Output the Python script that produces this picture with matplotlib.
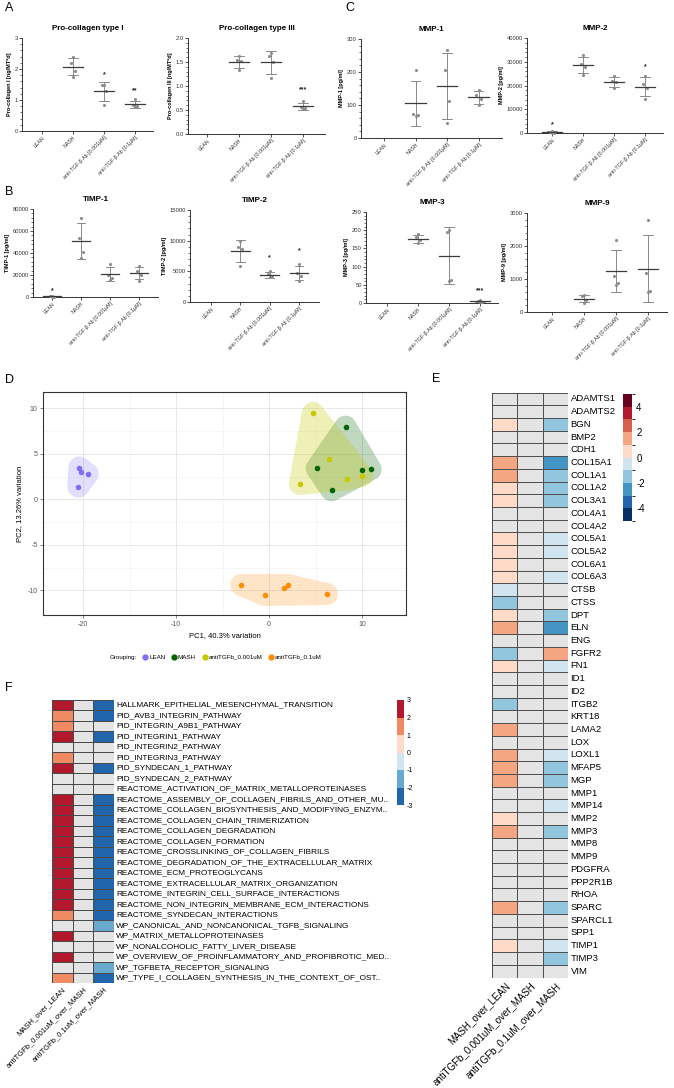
import numpy as np
import matplotlib
matplotlib.use("Agg")
import matplotlib.pyplot as plt
from matplotlib.colors import ListedColormap, BoundaryNorm
from matplotlib.patches import Polygon
from matplotlib.lines import Line2D
from matplotlib.ticker import MultipleLocator, AutoMinorLocator
from matplotlib.cm import ScalarMappable
from matplotlib import font_manager

avail = {f.name for f in font_manager.fontManager.ttflist}
plt.rcParams['font.family'] = ['Liberation Sans', 'DejaVu Sans']
plt.rcParams['axes.unicode_minus'] = False
NARROW = ['Liberation Sans Narrow', 'Liberation Sans'] if 'Liberation Sans Narrow' in avail else None

# ---------------- data: panels A-C ----------------
groups = ["LEAN", "NASH", "anti-TGF-β Ab [0.001µM]", "anti-TGF-β Ab [0.1µM]"]

procol1 = [[], [2.40, 2.20, 1.95, 1.75], [1.50, 1.48, 1.30, 0.85], [1.02, 0.83, 0.80, 0.78]]
procol3 = [[], [1.62, 1.55, 1.52, 1.33], [1.68, 1.62, 1.50, 1.16], [0.68, 0.56, 0.54, 0.53]]
timp1 = [[1200, 600, 200, 0], [72000, 54000, 41000, 35000],
         [30000, 20000, 17000, 15500], [28000, 24000, 20000, 15000]]
timp2 = [[], [10000, 9000, 8700, 5800], [5100, 4600, 4200, 4000], [6200, 4700, 4200, 3500]]
mmp1 = [[], [207, 74, 70, 68], [267, 206, 113, 44], [145, 130, 118, 100]]
mmp2 = [[800, 300, 100, 0], [33000, 29000, 28000, 24500],
        [24000, 22000, 21500, 19000], [24000, 20500, 19000, 14500]]
mmp3 = [[], [190, 180, 172, 165], [200, 195, 64, 60], [7, 5, 3, 2]]
mmp9 = [[], [520, 470, 350, 270], [2170, 1100, 870, 820], [2800, 1180, 650, 620]]

stars_procol1 = [(2, "*", 1.8), (3, "**", 1.3)]
stars_procol3 = [(3, "***", 0.93)]
stars_timp1 = [(0, "*", 6000)]
stars_timp2 = [(2, "*", 7200), (3, "*", 8300)]
stars_mmp1 = []
stars_mmp2 = [(0, "*", 3400), (3, "*", 28000)]
stars_mmp3 = [(3, "***", 33)]
stars_mmp9 = []

# ---------------- data: panel D (PCA) ----------------
pca_groups = ["LEAN", "MASH", "antiTGFb_0.001uM", "antiTGFb_0.1uM"]
pc1_lean = [-20.4, -20.2, -19.5, -20.5]
pc2_lean = [3.5, 3.0, 2.8, 1.4]
pc1_mash = [8.2, 5.1, 10.0, 10.9, 6.7]
pc2_mash = [8.0, 3.4, 3.2, 3.3, 1.0]
pc1_a001 = [4.7, 6.4, 8.4, 10.0, 3.3]
pc2_a001 = [9.5, 4.4, 2.2, 2.6, 1.7]
pc1_a01 = [-3.0, -0.5, 1.6, 2.0, 6.2]
pc2_a01 = [-9.4, -10.5, -9.7, -9.4, -10.4]

# ---------------- data: panel E (genes) ----------------
nan = np.nan
genes = ["ADAMTS1", "ADAMTS2", "BGN", "BMP2", "CDH1", "COL15A1", "COL1A1", "COL1A2", "COL3A1",
         "COL4A1", "COL4A2", "COL5A1", "COL5A2", "COL6A1", "COL6A3", "CTSB", "CTSS", "DPT", "ELN",
         "ENG", "FGFR2", "FN1", "ID1", "ID2", "ITGB2", "KRT18", "LAMA2", "LOX", "LOXL1", "MFAP5",
         "MGP", "MMP1", "MMP14", "MMP2", "MMP3", "MMP8", "MMP9", "PDGFRA", "PPP2R1B", "RHOA",
         "SPARC", "SPARCL1", "SPP1", "TIMP1", "TIMP3", "VIM"]
contrasts = ["MASH_over_LEAN", "antiTGFb_0.001uM_over_MASH", "antiTGFb_0.1uM_over_MASH"]
e_mash_lean = [nan, nan, 0.5, nan, nan, 1.5, 1.5, 0.5, 0.5, nan, nan, 0.5, 0.5, 0.5, 0.5, -0.5,
               -1.5, 0.5, 1.5, nan, -1.5, 0.5, nan, nan, -1.5, nan, 1.5, nan, 1.5, 1.5, 1.5, nan,
               nan, 0.5, 1.5, nan, nan, nan, nan, nan, 1.5, nan, nan, 0.5, nan, nan]
e_a001 = [nan] * 46
e_a01 = [nan, nan, -1.5, nan, nan, -2.5, -1.5, -1.5, -1.5, nan, nan, -0.5, -0.5, nan, -0.5, nan,
         nan, -1.5, -2.5, nan, 1.5, -0.5, nan, nan, nan, nan, nan, nan, -0.5, -1.5, -1.5, nan,
         -0.5, nan, -1.5, nan, nan, nan, nan, nan, -1.5, nan, nan, -0.5, -1.5, nan]

# ---------------- data: panel F (pathways) ----------------
pathways = ["HALLMARK_EPITHELIAL_MESENCHYMAL_TRANSITION", "PID_AVB3_INTEGRIN_PATHWAY",
            "PID_INTEGRIN_A9B1_PATHWAY", "PID_INTEGRIN1_PATHWAY", "PID_INTEGRIN2_PATHWAY",
            "PID_INTEGRIN3_PATHWAY", "PID_SYNDECAN_1_PATHWAY", "PID_SYNDECAN_2_PATHWAY",
            "REACTOME_ACTIVATION_OF_MATRIX_METALLOPROTEINASES",
            "REACTOME_ASSEMBLY_OF_COLLAGEN_FIBRILS_AND_OTHER_MU..",
            "REACTOME_COLLAGEN_BIOSYNTHESIS_AND_MODIFYING_ENZYM..",
            "REACTOME_COLLAGEN_CHAIN_TRIMERIZATION", "REACTOME_COLLAGEN_DEGRADATION",
            "REACTOME_COLLAGEN_FORMATION", "REACTOME_CROSSLINKING_OF_COLLAGEN_FIBRILS",
            "REACTOME_DEGRADATION_OF_THE_EXTRACELLULAR_MATRIX", "REACTOME_ECM_PROTEOGLYCANS",
            "REACTOME_EXTRACELLULAR_MATRIX_ORGANIZATION", "REACTOME_INTEGRIN_CELL_SURFACE_INTERACTIONS",
            "REACTOME_NON_INTEGRIN_MEMBRANE_ECM_INTERACTIONS", "REACTOME_SYNDECAN_INTERACTIONS",
            "WP_CANONICAL_AND_NONCANONICAL_TGFB_SIGNALING", "WP_MATRIX_METALLOPROTEINASES",
            "WP_NONALCOHOLIC_FATTY_LIVER_DISEASE",
            "WP_OVERVIEW_OF_PROINFLAMMATORY_AND_PROFIBROTIC_MED..",
            "WP_TGFBETA_RECEPTOR_SIGNALING", "WP_TYPE_I_COLLAGEN_SYNTHESIS_IN_THE_CONTEXT_OF_OST.."]
f_mash_lean = [2.5, 1.5, 1.5, 2.5, nan, 1.5, 2.5, nan, nan, 2.5, 2.5, 2.5, 2.5, 2.5, 2.5, 2.5,
               2.5, 2.5, 2.5, 2.5, 1.5, nan, 2.5, nan, 2.5, nan, 1.5]
f_a001 = [nan] * 27
f_a01 = [-2.5, -2.5, nan, -2.5, nan, nan, -2.5, nan, nan, -2.5, -2.5, -2.5, -2.5, -2.5, -2.5,
         -2.5, -2.5, -2.5, -2.5, -2.5, -2.5, -1.5, nan, nan, nan, -1.5, -2.5]

# ---------------- figure ----------------
W, H = 674, 1088
fig = plt.figure(figsize=(W / 100, H / 100), dpi=100)


def rect(l, t, r, b):
    return [l / W, 1 - b / H, (r - l) / W, (b - t) / H]


def letter(x, y, s):
    fig.text(x / W, 1 - y / H, s, fontsize=9, ha='left', va='center')


AXC = "#333333"


def dotplot(box, lean_px, sp, title, ylabel, data, ymax, ystep, nminor, stars, fmt=None):
    l, t, r, b = box
    ax = fig.add_axes(rect(l, t, r, b))
    ax.set_xlim(-(lean_px - l) / sp, (r - lean_px) / sp)
    ax.set_ylim(0, ymax)
    offs = np.array([0.0, -0.07, 0.07, 0.0])
    for i, pts in enumerate(data):
        if len(pts) == 0:
            continue
        pts = np.asarray(pts, float)
        m = pts.mean()
        sd = pts.std(ddof=1)
        ax.scatter(i + offs[:len(pts)], pts, s=5, color="#8c8c8c", lw=0, zorder=3, clip_on=False)
        ax.plot([i - 0.32, i + 0.32], [m, m], color="#3c3c3c", lw=0.9, zorder=4)
        ax.plot([i, i], [max(m - sd, 0), m + sd], color="#777777", lw=0.6, zorder=2)
        for yv in (m - sd, m + sd):
            if yv >= 0:
                ax.plot([i - 0.15, i + 0.15], [yv, yv], color="#777777", lw=0.6, zorder=2)
    for gi, s, yv in stars:
        ax.text(gi, yv, s, ha='center', va='center', fontsize=5, fontweight='bold', color="#222222")
    for sp_ in ("top", "right"):
        ax.spines[sp_].set_visible(False)
    for sp_ in ("left", "bottom"):
        ax.spines[sp_].set_color(AXC)
        ax.spines[sp_].set_linewidth(0.7)
    ax.yaxis.set_major_locator(MultipleLocator(ystep))
    if nminor:
        ax.yaxis.set_minor_locator(AutoMinorLocator(nminor))
    ax.tick_params(axis='y', which='major', length=2, width=0.6, labelsize=4.2, pad=1, colors=AXC)
    ax.tick_params(axis='y', which='minor', length=1.2, width=0.5, colors=AXC)
    ax.tick_params(axis='x', length=2, width=0.6, pad=1, colors=AXC)
    ax.set_xticks(range(4))
    ax.set_xticklabels(groups, rotation=45, ha='right', rotation_mode='anchor', fontsize=3.8)
    if fmt:
        ax.yaxis.set_major_formatter(plt.FuncFormatter(lambda v, p: fmt.format(v)))
    else:
        ax.yaxis.set_major_formatter(plt.FuncFormatter(lambda v, p: "%d" % round(v)))
    ax.set_title(title, fontsize=5.8, fontweight='bold', pad=6)
    ax.set_ylabel(ylabel, fontsize=4, fontweight='bold', labelpad=2)
    return ax


letter(5, 8, "A")
letter(5, 192, "B")
letter(345, 8, "C")

dotplot((22, 38, 153, 131), 42, 31, "Pro-collagen type I", "Pro-collagen I [ng/MT*d]",
        procol1, 3, 1, 5, stars_procol1)
dotplot((188, 38, 325, 134), 207, 32, "Pro-collagen type III", "Pro-collagen III [ng/MT*d]",
        procol3, 2.0, 0.5, 5, stars_procol3, fmt="{:.1f}")
dotplot((33, 209, 158, 297), 52, 29, "TIMP-1", "TIMP-1 [pg/ml]",
        timp1, 80000, 20000, 5, stars_timp1)
dotplot((190, 210, 319, 302), 211, 29.3, "TIMP-2", "TIMP-2 [pg/ml]",
        timp2, 15000, 5000, 5, stars_timp2)
dotplot((361, 39, 502, 138), 384, 31.5, "MMP-1", "MMP-1 [pg/ml]",
        mmp1, 300, 100, 5, stars_mmp1)
dotplot((527, 38, 663, 133), 552, 31, "MMP-2", "MMP-2 [pg/ml]",
        mmp2, 40000, 10000, 5, stars_mmp2)
dotplot((366, 212, 498, 303), 387, 31, "MMP-3", "MMP-3 [pg/ml]",
        mmp3, 250, 50, 5, stars_mmp3)
dotplot((527, 213, 667, 312), 552, 32, "MMP-9", "MMP-9 [pg/ml]",
        mmp9, 3000, 1000, 5, stars_mmp9)

# ---------------- panel D ----------------
letter(5, 380, "D")
axp = fig.add_axes(rect(43, 392, 406, 615))
axp.set_xlim(-24.3, 14.7)
axp.set_ylim(-12.7, 11.8)
axp.set_xticks([-20, -10, 0, 10])
axp.set_yticks([-10, -5, 0, 5, 10])
axp.set_xticks([-15, -5, 5], minor=True)
axp.set_yticks([-7.5, -2.5, 2.5, 7.5], minor=True)
axp.grid(True, which='major', color="#e3e3e3", lw=0.6)
axp.grid(True, which='minor', color="#f0f0f0", lw=0.4)
axp.set_axisbelow(True)
for s in axp.spines.values():
    s.set_color("#333333")
    s.set_linewidth(0.8)
axp.tick_params(which='major', length=2, width=0.5, colors="#555555", labelsize=5, pad=2)
axp.tick_params(which='minor', length=0)
axp.set_xlabel("PC1, 40.3% variation", fontsize=5.5, labelpad=3)
axp.set_ylabel("PC2, 13.26% variation", fontsize=5.5, labelpad=3)

pca_cols = ["#7f6ef5", "#006400", "#c8c800", "#ff8c00"]
pca_alpha = [0.22, 0.25, 0.28, 0.22]
pca_x = [pc1_lean, pc1_mash, pc1_a001, pc1_a01]
pca_y = [pc2_lean, pc2_mash, pc2_a001, pc2_a01]


def convex_hull(points):
    pts = sorted(set(points))
    if len(pts) <= 2:
        return pts

    def cross(o, a, b):
        return (a[0] - o[0]) * (b[1] - o[1]) - (a[1] - o[1]) * (b[0] - o[0])
    lower = []
    for p in pts:
        while len(lower) >= 2 and cross(lower[-2], lower[-1], p) <= 0:
            lower.pop()
        lower.append(p)
    upper = []
    for p in reversed(pts):
        while len(upper) >= 2 and cross(upper[-2], upper[-1], p) <= 0:
            upper.pop()
        upper.append(p)
    return lower[:-1] + upper[:-1]


def expanded_hull(ax, xs, ys, r_px):
    disp = ax.transData.transform(np.column_stack([xs, ys]))
    ang = np.linspace(0, 2 * np.pi, 40, endpoint=False)
    cloud = []
    for (dx, dy) in disp:
        for a in ang:
            cloud.append((dx + r_px * np.cos(a), dy + r_px * np.sin(a)))
    h = np.array(convex_hull(cloud))
    return ax.transData.inverted().transform(h)


for xs, ys, c, a in zip(pca_x, pca_y, pca_cols, pca_alpha):
    poly = expanded_hull(axp, xs, ys, 11)
    axp.add_patch(Polygon(poly, closed=True, facecolor=c, edgecolor='none', alpha=a, zorder=1))
for xs, ys, c in zip(pca_x, pca_y, pca_cols):
    axp.scatter(xs, ys, s=16, color=c, lw=0, zorder=3)

handles = [Line2D([], [], ls='', marker='')] + \
    [Line2D([], [], ls='', marker='o', color=c, markersize=3.5) for c in pca_cols]
labels = ["Grouping:"] + pca_groups
fig.legend(handles, labels, loc='center', bbox_to_anchor=(212 / W, 1 - 657 / H), ncol=5,
           frameon=False, fontsize=4.5, handletextpad=0.1, columnspacing=0.9, handlelength=1.0,
           borderpad=0)

# ---------------- heatmaps ----------------
NA_COL = "#e4e4e4"
rdbu10 = ["#053061", "#2166ac", "#4393c3", "#92c5de", "#d1e5f0",
          "#fddbc7", "#f4a582", "#d6604d", "#b2182b", "#67001f"]
cmapE = ListedColormap(rdbu10)
cmapE.set_bad(NA_COL)
normE = BoundaryNorm(np.arange(-5, 6, 1), cmapE.N)

rdbu6 = ["#2166ac", "#67a9cf", "#d1e5f0", "#fddbc7", "#ef8a62", "#b2182b"]
cmapF = ListedColormap(rdbu6)
cmapF.set_bad(NA_COL)
normF = BoundaryNorm(np.arange(-3, 4, 1), cmapF.N)


def heatmap(box, cols, rows, cmap, norm, rowfs, colfs, rowfont, edge, lw):
    ax = fig.add_axes(rect(*box))
    mat = np.ma.masked_invalid(np.column_stack(cols))
    nr, nc = mat.shape
    ax.pcolormesh(np.arange(nc + 1), np.arange(nr + 1), mat, cmap=cmap, norm=norm,
                  edgecolors=edge, linewidth=lw)
    ax.set_xlim(0, nc)
    ax.set_ylim(nr, 0)
    ax.axis('off')
    kw = {'family': rowfont} if rowfont else {}
    for i, name in enumerate(rows):
        ax.text(nc + 0.1, i + 0.5, name, ha='left', va='center', fontsize=rowfs, **kw)
    for j, name in enumerate(contrasts):
        ax.text(j + 0.5, nr + 0.25, name, ha='right', va='top', rotation=45,
                rotation_mode='anchor', fontsize=colfs, **kw)
    return ax


letter(432, 379, "E")
heatmap((492, 392.6, 568, 977.5), [e_mash_lean, e_a001, e_a01], genes, cmapE, normE,
        6.8, 7.0, None, "#505050", 0.7)
caxE = fig.add_axes(rect(623, 394, 632, 521))
cbE = fig.colorbar(ScalarMappable(norm=normE, cmap=cmapE), cax=caxE, ticks=[-4, -2, 0, 2, 4])
cbE.outline.set_visible(False)
caxE.tick_params(length=0, labelsize=7, pad=3)

letter(5, 688, "F")
if NARROW:
    heatmap((52, 700, 114, 983), [f_mash_lean, f_a001, f_a01], pathways, cmapF, normF,
            6.9, 6.4, NARROW, "#4a4a4a", 0.6)
else:
    heatmap((52, 700, 114, 983), [f_mash_lean, f_a001, f_a01], pathways, cmapF, normF,
            5.95, 5.5, None, "#4a4a4a", 0.6)
caxF = fig.add_axes(rect(397, 700, 404, 805))
cbF = fig.colorbar(ScalarMappable(norm=normF, cmap=cmapF), cax=caxF, ticks=[-3, -2, -1, 0, 1, 2, 3])
cbF.outline.set_visible(False)
caxF.tick_params(length=0, labelsize=5, pad=2)

fig.savefig("out.png", dpi=100)
